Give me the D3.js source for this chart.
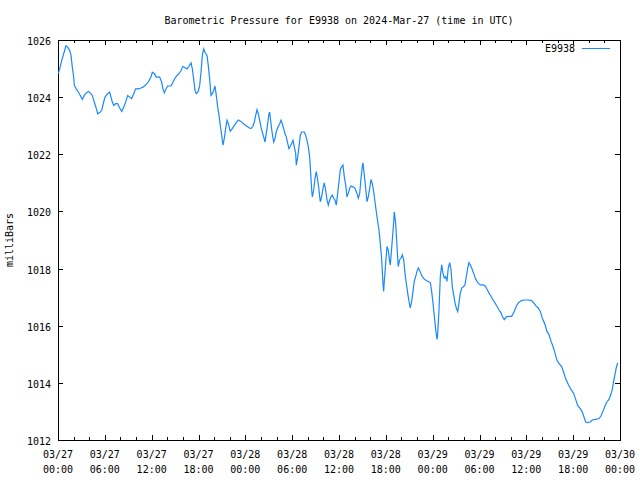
<!DOCTYPE html>
<html>
<head>
<meta charset="utf-8">
<script src="https://cdn.jsdelivr.net/npm/d3@7"></script>
<style>
  body { margin: 0; background: #fff; }
  svg text { font-family: "DejaVu Sans Mono", "Liberation Mono", monospace; font-size: 10px; fill: #000; }
</style>
</head>
<body>
<div id="chart"></div>
<script>
/**
 * barometric pressure chart, station E9938
 */

var station_id = 'E9938';
var chart_title = 'Barometric Pressure for E9938 on 2024-Mar-27 (time in UTC)';
var y_label = 'milliBars';

// time axis: 03/27 00:00 .. 03/30 00:00 (UTC)
var time_start = '2024-03-27T00:00:00Z';
var time_end = '2024-03-30T00:00:00Z';

var y_ticks = [1012, 1014, 1016, 1018, 1020, 1022, 1024, 1026];

// hours since time_start
var obs_hours = [
  0.04, 0.22, 0.47, 0.73, 1.02, 1.24, 1.50, 1.67, 1.83, 2.01, 2.09, 2.34, 2.60, 2.86, 3.11, 3.37, 3.63, 3.88,
  4.14, 4.39, 4.65, 4.91, 5.09, 5.34, 5.60, 5.85, 6.02, 6.37, 6.62, 6.79, 6.96, 7.14, 7.39, 7.65, 7.90, 8.16,
  8.42, 8.67, 8.93, 9.19, 9.44, 9.70, 9.95, 10.29, 10.63, 10.89, 11.15, 11.40, 11.66, 11.91, 12.08, 12.34,
  12.59, 13.03, 13.28, 13.45, 13.62, 13.80, 14.05, 14.48, 14.73, 14.99, 15.24, 15.50, 15.76, 16.01, 16.27,
  16.53, 16.78, 17.04, 17.21, 17.38, 17.55, 17.72, 17.97, 18.15, 18.32, 18.49, 18.67, 18.83, 19.09, 19.25,
  19.43, 19.60, 19.77, 19.95, 20.11, 20.28, 20.46, 20.63, 20.79, 20.97, 21.14, 21.30, 21.48, 21.65, 21.82,
  22.07, 22.33, 22.59, 22.84, 23.10, 23.44, 23.79,
  24.12, 24.47, 24.72, 24.98, 25.15, 25.33, 25.49, 25.66, 25.84, 26.01, 26.17, 26.35, 26.52, 26.68, 26.86,
  27.03, 27.12, 27.29, 27.45, 27.63, 27.80, 27.96, 28.14, 28.40, 28.57, 28.73, 28.91, 29.08, 29.25, 29.43,
  29.59, 29.76, 29.94, 30.11, 30.27, 30.45, 30.53, 30.71, 30.87, 31.04, 31.22, 31.55, 31.73, 31.90, 32.07,
  32.24, 32.32, 32.41, 32.50, 32.58, 32.76, 32.92, 33.09, 33.27, 33.44, 33.60, 33.78, 33.95, 34.11, 34.29,
  34.46, 34.63, 34.81, 34.97, 35.14, 35.32, 35.49, 35.65, 35.83, 36.00, 36.17, 36.34, 36.51, 36.68, 36.86,
  37.02, 37.19, 37.37, 37.54, 37.79, 38.05, 38.30, 38.47, 38.65, 38.82, 38.98, 39.07, 39.24, 39.42, 39.58,
  39.75, 39.93, 40.10, 40.26, 40.44, 40.61, 40.78, 40.96, 41.12, 41.29, 41.47, 41.63, 41.72, 41.80, 41.98,
  42.15, 42.31, 42.49, 42.57, 42.66, 42.83, 43.01, 43.08, 43.26, 43.43, 43.59, 43.77, 43.94, 44.11, 44.29,
  44.45, 44.62, 44.80, 44.97, 45.13, 45.31, 45.48, 45.64, 45.82, 45.99, 46.16, 46.34, 46.50, 46.67, 46.93,
  47.18, 47.44, 47.70, 47.87, 48.04, 48.21, 48.39, 48.56, 48.65, 48.81, 48.98, 49.16, 49.32, 49.49, 49.67,
  49.83, 50.00, 50.18, 50.35, 50.51, 50.69, 50.86, 51.03, 51.21, 51.37, 51.54, 51.72, 51.97, 52.14, 52.31,
  52.49, 52.65, 52.82, 53.00, 53.16, 53.33, 53.51, 53.68, 53.84, 54.10, 54.45, 54.70, 54.87, 55.05, 55.22,
  55.47, 55.73, 55.98, 56.24, 56.49, 56.75, 56.92, 57.17, 57.43, 57.77, 58.12, 58.46, 58.71, 58.97, 59.31,
  59.66, 60.25, 60.68, 60.94, 61.20, 61.53, 61.79, 62.04, 62.39, 62.64, 62.90, 63.16, 63.41, 63.67, 63.92,
  64.18, 64.53, 64.78, 65.04, 65.37, 65.72, 66.06, 66.32, 66.58, 66.91, 67.17, 67.42, 67.60, 67.86, 68.19,
  68.45, 68.89, 69.31, 69.56, 69.82, 70.07, 70.33, 70.59, 70.84, 71.01, 71.19, 71.35, 71.52, 71.70
];

// pressure, mb
var obs_pressure = [
  1024.82, 1025.00, 1025.28, 1025.52, 1025.80, 1025.75, 1025.63, 1025.46, 1025.05, 1024.70, 1024.41, 1024.29,
  1024.18, 1024.06, 1023.92, 1024.06, 1024.15, 1024.20, 1024.15, 1024.06, 1023.83, 1023.60, 1023.42, 1023.46,
  1023.54, 1023.83, 1024.00, 1024.12, 1024.18, 1024.00, 1023.83, 1023.71, 1023.77, 1023.77, 1023.62, 1023.50,
  1023.65, 1023.83, 1024.06, 1024.00, 1023.95, 1024.12, 1024.29, 1024.29, 1024.32, 1024.35, 1024.41, 1024.47,
  1024.58, 1024.70, 1024.87, 1024.82,
  1024.70, 1024.70, 1024.52, 1024.29, 1024.15, 1024.27, 1024.39, 1024.39, 1024.52, 1024.66, 1024.76,
  1024.82, 1024.93, 1025.08, 1025.03, 1024.99, 1025.08, 1025.20, 1024.99, 1024.64, 1024.24, 1024.12,
  1024.20, 1024.41, 1024.87, 1025.46, 1025.69, 1025.57, 1025.46, 1025.11, 1024.64, 1024.06, 1024.12,
  1024.24, 1024.39, 1024.06, 1023.65, 1023.36, 1023.01, 1022.67, 1022.32, 1022.55, 1022.90, 1023.19,
  1023.07, 1022.81, 1022.90, 1023.01, 1023.11, 1023.20, 1023.15, 1023.06,
  1023.00, 1022.93, 1022.90, 1022.98, 1023.13, 1023.36, 1023.56, 1023.42, 1023.19, 1022.95, 1022.78,
  1022.61, 1022.43, 1022.72, 1023.07, 1023.42, 1023.48, 1023.07, 1022.72, 1022.43, 1022.55, 1022.78,
  1022.93, 1023.07, 1023.19, 1023.07, 1022.90, 1022.72, 1022.61, 1022.38, 1022.20, 1022.28, 1022.38,
  1022.49, 1022.26, 1022.03, 1021.62, 1021.91, 1022.26, 1022.67, 1022.78, 1022.78, 1022.67, 1022.49,
  1022.26, 1021.91, 1021.56, 1021.16, 1020.75, 1020.51, 1020.75, 1021.16, 1021.39, 1021.10, 1020.75,
  1020.34, 1020.51, 1020.81, 1021.00, 1020.75, 1020.40, 1020.22, 1020.40, 1020.51, 1020.57, 1020.46,
  1020.40, 1020.22, 1020.63, 1021.04, 1021.47, 1021.56, 1021.62, 1021.21, 1020.92, 1020.51, 1020.63,
  1020.81, 1020.89, 1020.86, 1020.81, 1020.63, 1020.46, 1020.63, 1021.16, 1021.56, 1021.70, 1021.27,
  1020.81, 1020.34, 1020.51, 1020.81, 1021.12, 1020.98, 1020.69, 1020.34, 1019.99, 1019.64, 1019.35,
  1018.89, 1018.31, 1017.49, 1017.20, 1017.55, 1018.19, 1018.77, 1018.65, 1018.25, 1018.13, 1018.42,
  1019.00, 1019.64, 1019.99, 1019.59, 1018.77, 1018.07, 1018.31, 1018.36, 1018.48, 1018.31, 1017.84,
  1017.49, 1017.14, 1016.85, 1016.62, 1016.85, 1017.20, 1017.55, 1017.72, 1017.90, 1018.02, 1017.93,
  1017.82, 1017.72, 1017.63,
  1017.58, 1017.55, 1017.51, 1017.20, 1016.80, 1016.33, 1015.86, 1015.52, 1015.75, 1016.56, 1017.72,
  1018.13, 1017.84, 1017.67, 1017.72, 1017.55, 1018.02, 1018.21, 1017.96, 1017.37, 1017.08, 1016.80,
  1016.62, 1016.50, 1016.80, 1017.14, 1017.32, 1017.37, 1017.43, 1017.72, 1018.02, 1018.21, 1018.13,
  1018.02, 1017.90, 1017.78, 1017.63, 1017.55, 1017.49, 1017.43, 1017.43, 1017.40, 1017.32, 1017.23,
  1017.14, 1017.03, 1016.91, 1016.80, 1016.68, 1016.56, 1016.45, 1016.33, 1016.21, 1016.31, 1016.33,
  1016.33, 1016.50, 1016.68, 1016.80, 1016.87, 1016.90, 1016.90, 1016.88, 1016.80, 1016.70, 1016.62,
  1016.50, 1016.27, 1016.04, 1015.80, 1015.69, 1015.46, 1015.28, 1015.05, 1014.79, 1014.68, 1014.56,
  1014.37, 1014.14, 1013.95, 1013.77, 1013.63, 1013.42, 1013.21, 1013.10, 1012.98, 1012.78, 1012.63,
  1012.61, 1012.63, 1012.70, 1012.72, 1012.75, 1012.84, 1013.01, 1013.19, 1013.33, 1013.42, 1013.60,
  1013.77, 1014.06, 1014.29, 1014.53, 1014.70
];

var app_pressure_chart = (function () {

  var width = 640;
  var height = 480;
  var plot = { left: 58, right: 620, top: 40, bottom: 440 };
  var line_color = '#1a88ff';

  function buildSeries() {
    var t0 = new Date(time_start).getTime();
    return obs_hours.map(function (h, i) {
      return { time: new Date(t0 + h * 3600 * 1000), value: obs_pressure[i] };
    });
  }

  function draw() {
    var series = buildSeries();

    var svg = d3.select('#chart').append('svg')
      .attr('width', width)
      .attr('height', height);

    var x = d3.scaleUtc()
      .domain([new Date(time_start), new Date(time_end)])
      .range([plot.left, plot.right]);

    var y = d3.scaleLinear()
      .domain([d3.min(y_ticks), d3.max(y_ticks)])
      .range([plot.bottom, plot.top]);

    var major_ticks = x.ticks(d3.utcHour.every(6));
    var minor_ticks = x.ticks(d3.utcHour.every(2)).filter(function (d) {
      return d.getUTCHours() % 6 != 0;
    });

    // title
    svg.append('text')
      .attr('x', 339)
      .attr('y', 24)
      .attr('text-anchor', 'middle')
      .text(chart_title);

    // y label
    svg.append('text')
      .attr('transform', 'translate(13,240) rotate(-90)')
      .attr('text-anchor', 'middle')
      .text(y_label);

    var g = svg.append('g').attr('shape-rendering', 'crispEdges');

    // y ticks, left and mirrored right
    y_ticks.forEach(function (v) {
      var yy = Math.round(y(v)) + 0.5;
      g.append('line').attr('x1', plot.left).attr('x2', plot.left + 5)
        .attr('y1', yy).attr('y2', yy).attr('stroke', '#000');
      g.append('line').attr('x1', plot.right - 5).attr('x2', plot.right)
        .attr('y1', yy).attr('y2', yy).attr('stroke', '#000');
      svg.append('text')
        .attr('x', 51)
        .attr('y', yy + 4)
        .attr('text-anchor', 'end')
        .text(v);
    });

    // x ticks, bottom and mirrored top
    function xTick(d, len) {
      var xx = Math.round(x(d)) + 0.5;
      g.append('line').attr('x1', xx).attr('x2', xx)
        .attr('y1', plot.bottom).attr('y2', plot.bottom - len).attr('stroke', '#000');
      g.append('line').attr('x1', xx).attr('x2', xx)
        .attr('y1', plot.top).attr('y2', plot.top + len).attr('stroke', '#000');
    }
    major_ticks.forEach(function (d) { xTick(d, 5); });
    minor_ticks.forEach(function (d) { xTick(d, 3); });

    var fmt_day = d3.utcFormat('%m/%d');
    var fmt_hour = d3.utcFormat('%H:%M');
    major_ticks.forEach(function (d) {
      var lbl = svg.append('text')
        .attr('text-anchor', 'middle')
        .attr('x', x(d));
      lbl.append('tspan').attr('x', x(d)).attr('y', 458).text(fmt_day(d));
      lbl.append('tspan').attr('x', x(d)).attr('y', 473).text(fmt_hour(d));
    });

    // data line
    var line = d3.line()
      .x(function (d) { return x(d.time); })
      .y(function (d) { return y(d.value); });

    svg.append('path')
      .datum(series)
      .attr('d', line)
      .attr('fill', 'none')
      .attr('stroke', line_color)
      .attr('stroke-width', 1.2);

    // frame
    g.append('rect')
      .attr('x', plot.left + 0.5)
      .attr('y', plot.top + 0.5)
      .attr('width', plot.right - plot.left)
      .attr('height', plot.bottom - plot.top)
      .attr('fill', 'none')
      .attr('stroke', '#000');

    // legend
    svg.append('text')
      .attr('x', 575)
      .attr('y', 52)
      .attr('text-anchor', 'end')
      .text(station_id);
    g.append('line')
      .attr('x1', 582).attr('x2', 610)
      .attr('y1', 48.5).attr('y2', 48.5)
      .attr('stroke', line_color);
  }

  return {
    'draw' : draw
  }

}());

app_pressure_chart.draw();
</script>
</body>
</html>
